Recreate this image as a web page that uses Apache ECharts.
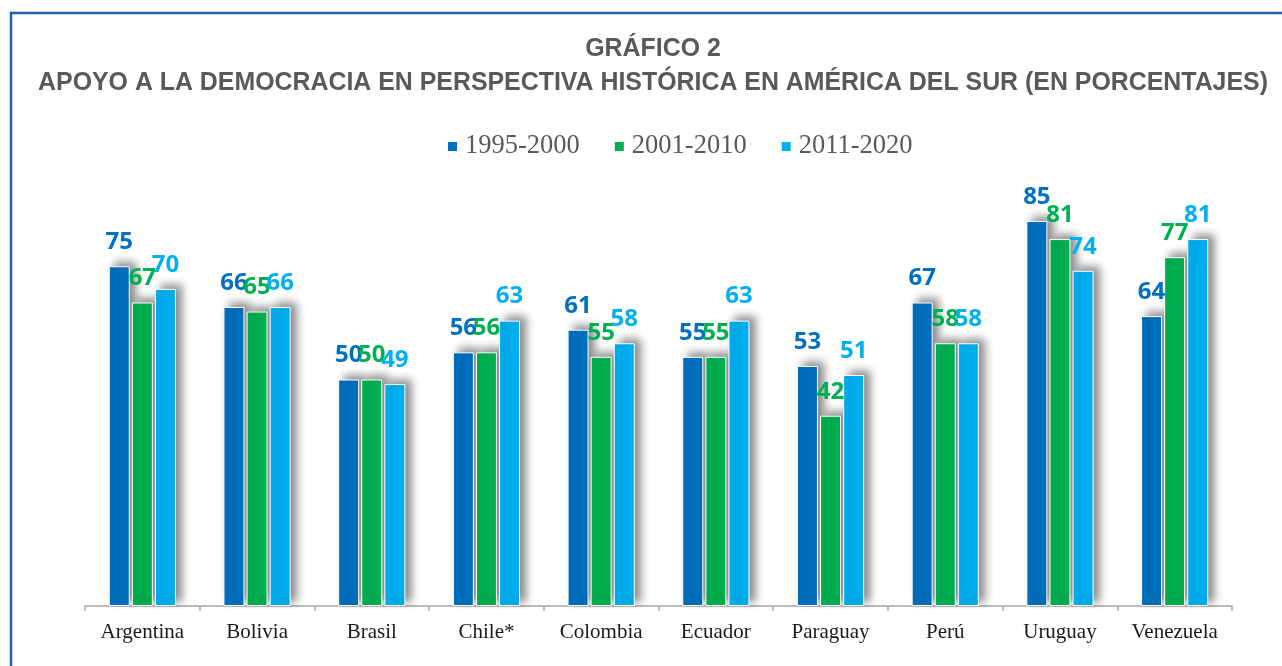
<!DOCTYPE html>
<html>
<head>
<meta charset="utf-8">
<script src="https://cdn.jsdelivr.net/npm/echarts@6/dist/echarts.min.js"></script>
<style>
  html, body { margin: 0; padding: 0; background: #fff; }
  #chart { width: 1282px; height: 666px; }
</style>
</head>
<body>
<div id="chart"></div>
<script>
// datos del gráfico
const paises = ['Argentina', 'Bolivia', 'Brasil', 'Chile*', 'Colombia', 'Ecuador', 'Paraguay', 'Perú', 'Uruguay', 'Venezuela'];
const periodos = ['1995-2000', '2001-2010', '2011-2020'];
const p1995 = [75, 66, 50, 56, 61, 55, 53, 67, 85, 64];
const p2001 = [67, 65, 50, 56, 55, 55, 42, 58, 81, 77];
const p2011 = [70, 66, 49, 63, 58, 63, 51, 58, 74, 81];
const colores = ['#0070C0', '#00B050', '#00B0F0'];

const chart = echarts.init(document.getElementById('chart'));

function serie(name, data, color) {
  return {
    name: name,
    type: 'bar',
    data: data,
    barWidth: 21,
    barGap: '10%',
    itemStyle: {
      color: color,
      borderColor: '#fff',
      borderWidth: 1,
      shadowColor: 'rgba(0,0,0,0.45)',
      shadowBlur: 9,
      shadowOffsetX: 6,
      shadowOffsetY: -4
    },
    label: {
      show: true,
      position: 'top',
      distance: 12,
      color: color,
      fontFamily: 'Open Sans',
      fontWeight: 'bold',
      fontSize: 24
    }
  };
}

var option = {
  backgroundColor: '#fff',
  animation: false,
  graphic: [{
    type: 'rect',
    shape: { x: 11, y: 13, width: 1300, height: 700 },
    style: { fill: 'none', stroke: '#1F60A6', lineWidth: 2.5 }
  }],
  title: {
    text: 'GRÁFICO 2\nAPOYO A LA DEMOCRACIA EN PERSPECTIVA HISTÓRICA EN AMÉRICA DEL SUR (EN PORCENTAJES)',
    left: 648,
    top: 27,
    textAlign: 'center',
    textStyle: {
      fontFamily: 'Liberation Sans',
      fontWeight: 'bold',
      fontSize: 24.9,
      lineHeight: 34,
      color: '#595959'
    }
  },
  legend: {
    data: periodos,
    left: 446,
    top: 133,
    padding: 0,
    icon: 'rect',
    itemWidth: 11,
    itemHeight: 11,
    itemGap: 33,
    textStyle: {
      fontFamily: 'Liberation Serif',
      fontSize: 26.5,
      color: '#595959',
      padding: [0, 0, 0, 2]
    }
  },
  grid: { left: 85, right: 50, top: 153, bottom: 60 },
  xAxis: {
    type: 'category',
    data: paises,
    axisLine: { lineStyle: { color: '#A6A6A6', width: 1.5 } },
    axisTick: { show: true, length: 5, lineStyle: { color: '#A6A6A6', width: 1.5 } },
    axisLabel: {
      fontFamily: 'Liberation Serif',
      fontSize: 21,
      color: '#1a1a1a',
      margin: 16
    }
  },
  yAxis: {
    type: 'value',
    min: 0,
    max: 100,
    show: false,
    splitLine: { show: false }
  },
  series: [
    serie(periodos[0], p1995, colores[0]),
    serie(periodos[1], p2001, colores[1]),
    serie(periodos[2], p2011, colores[2])
  ]
};
chart.setOption(option);
</script>
</body>
</html>
